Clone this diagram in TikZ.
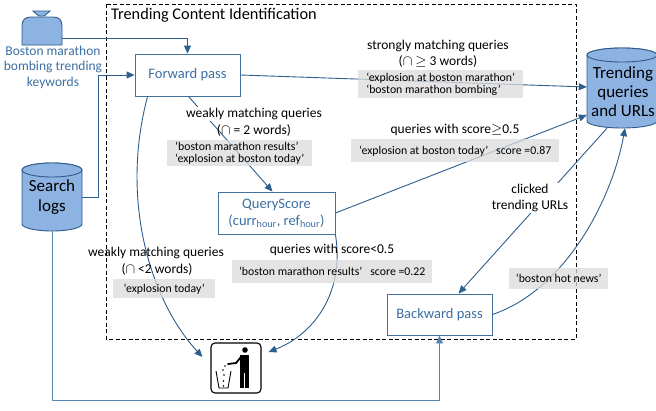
\documentclass[tikz,border=0pt]{standalone}
\usepackage{fontspec}
\setmainfont{Carlito}
\usetikzlibrary{arrows.meta,calc}
\definecolor{linecol}{HTML}{2E5F8E}
\definecolor{boxcol}{HTML}{41719C}
\definecolor{txtblue}{HTML}{3C6FA3}
\definecolor{cylfill}{HTML}{8DB3E2}
\definecolor{cylline}{HTML}{2F5B8A}
\definecolor{greyfill}{HTML}{DCDCDC}
\definecolor{loglinecol}{HTML}{5A86B4}
\tikzset{
  procbox/.style={draw=boxcol,line width=0.9pt,fill=white,text=txtblue,font=\fontsize{14.5}{17}\selectfont,align=center,inner sep=0pt},
  conn/.style={draw=linecol,line width=0.9pt,-{Triangle[length=8pt,width=7pt]}},
  lbl/.style={font=\fontsize{13.5}{16}\selectfont,align=center,inner sep=1pt},
  greybox/.style={fill=greyfill,fill opacity=0.75,text opacity=1,font=\fontsize{11.8}{12.8}\selectfont,align=left,anchor=north west,inner xsep=6pt,inner ysep=0pt},
  cylbody/.style={fill=cylfill,draw=cylline,line width=0.9pt},
  ghost/.style={inner sep=0pt,draw=none}
}
\begin{document}
\begin{tikzpicture}[x=1pt,y=-1pt]
\useasboundingbox (0,0) rectangle (656,410);
\fill[white] (0,0) rectangle (656,410);

% dashed frame
\draw[black,line width=0.9pt,dash pattern=on 4pt off 2.5pt] (106,4) rectangle (576,339);
\node[anchor=west,inner sep=0pt,font=\fontsize{16.3}{18}\selectfont] (title) at (111,15) {Trending Content Identification};

% keywords icon
\node[ghost,minimum width=40pt,minimum height=28pt] (bell) at (42,31) {};
\draw[cylbody] (22,45) -- (22,26) .. controls (22,20) and (25,17) .. (31,17) -- (53,17) .. controls (59,17) and (62,20) .. (62,26) -- (62,45) -- cycle;
\draw[cylbody] (33,11) -- (50,11) -- (44,16) -- (39,16) -- cycle;
\node[text=txtblue,font=\fontsize{13.5}{15.5}\selectfont,align=center,inner sep=0pt] (kw) at (53,67) {Boston marathon\\bombing trending\\keywords};

% search logs cylinder
\draw[cylbody] (22,170) -- (22,224) arc[start angle=180,end angle=0,x radius=30,y radius=7] -- (82,170) arc[start angle=0,end angle=-180,x radius=30,y radius=7] -- cycle;
\draw[cylbody] (52,170) ellipse[x radius=30,y radius=7];
\node[ghost,minimum width=60pt,minimum height=68pt,font=\fontsize{17}{20}\selectfont,align=center] (sl) at (52,197) {Search\\logs};

% trending cylinder
\draw[cylbody] (587,55) -- (587,121) arc[start angle=180,end angle=0,x radius=35,y radius=7] -- (657,55) arc[start angle=0,end angle=-180,x radius=35,y radius=7] -- cycle;
\draw[cylbody] (622,55) ellipse[x radius=35,y radius=7];
\node[ghost,minimum width=70pt,minimum height=80pt] (tq) at (622,88) {};
\node[inner sep=0pt,font=\fontsize{17}{19}\selectfont,align=center] (tqt) at (623,92) {Trending\\queries\\and URLs};

% process boxes
\node[procbox,minimum width=105pt,minimum height=42pt] (fp) at (187.5,75) {Forward pass};
\node[procbox,minimum width=117pt,minimum height=42pt] (qs) at (276.5,213) {QueryScore\\(curr\textsubscript{hour}, ref\textsubscript{hour})};
\node[procbox,minimum width=105pt,minimum height=41pt] (bp) at (439.5,314.5) {Backward pass};

% trash icon
\node[draw=black,line width=1.1pt,rounded corners=4pt,minimum width=50pt,minimum height=50pt,inner sep=0pt] (trash) at (236,368) {};
\fill[black] (245,350) circle[radius=2.8];
\fill[black] (240,355) rectangle (249,373);
\fill[black] (240,372) rectangle (243.8,388);
\fill[black] (245.2,372) rectangle (249,388);
\draw[black,line width=1.8pt,line cap=round] (241,357) -- (236,363) -- (228,364);
\draw[black,line width=0.9pt] (216,371) -- (219,388) -- (228,388) -- (231,371);
\fill[black] (225,366) circle[radius=0.9] (223,370) circle[radius=0.9] (224,375) circle[radius=0.9] (223.5,381) circle[radius=0.9] (223.5,386) circle[radius=0.9];

% connectors from inputs
\draw[conn] ($(bell.east)+(0,7)$) -| (fp.north);
\draw[conn] (sl.east) -- ++(16,0) |- (fp.west);
\draw[conn,draw=loglinecol] (sl.south) -- ++(0,169) -| (bp.south);

% forward pass -> trending
\draw[conn] (fp.east) -- ($(tq.west)+(0,-1)$);
\node[lbl] (l1) at (438,46) {strongly matching queries};
\node[lbl] (l1b) at (438,62) {($\cap$ $\geq$ 3 words)};
\node[greybox,minimum width=165pt,minimum height=28pt] (g1) at (358,70) {`explosion at boston marathon'\\`boston marathon bombing'};

% forward pass -> queryscore
\draw[conn] ($(fp.south)+(1,0)$) -- ($(qs.north)+(-4,0)$);
\node[lbl,fill=white] (l2) at (254,114) {weakly matching queries};
\node[lbl] (l2b) at (254,130) {($\cap$ = 2 words)};
\node[greybox,minimum width=145pt,minimum height=26pt] (g2) at (167,140) {`boston marathon results'\\`explosion at boston today'};

% queryscore -> trending
\draw[conn] (qs.east) -- ($(tq.west)+(0,27)$);
\node[lbl,fill=white] (l3) at (455,130) {queries with score$\geq$0.5};
\node[greybox,minimum width=208pt,minimum height=23pt] (g3) at (351,139) {`explosion at boston today'~~~score =0.87};

% queryscore -> trash
\draw[conn] (qs.south east) .. controls (345,295) and (312,335) .. ($(trash.east)+(7,-16)$);
\node[lbl] (l4) at (332,250) {queries with score<0.5};
\node[greybox,minimum width=200pt,minimum height=23pt] (g4) at (232,260) {`boston marathon results'~~~score =0.22};

% forward pass -> trash
\draw[conn] ($(fp.south west)+(13,0)$) .. controls (120,200) and (150,300) .. ($(trash.west)+(-8,-11)$);
\node[lbl] (l5) at (156,253) {weakly matching queries};
\node[lbl] (l5b) at (157,269) {($\cap$ <2 words)};
\node[greybox,minimum width=102pt,minimum height=19pt] (g5) at (113,279) {`explosion today'};

% trending -> backward pass
\draw[conn] ($(tq.south)+(-15,0)$) -- ($(bp.north)+(19,0)$);
\node[lbl,fill=white] (l6) at (530,198) {clicked\\trending URLs};

% backward pass -> trending
\draw[conn] (bp.east) .. controls (565,290) and (612,200) .. ($(tq.south)+(3,0)$);
\node[greybox,minimum width=99pt,minimum height=21pt] (g6) at (509,268) {`boston hot news'};
\end{tikzpicture}
\end{document}
